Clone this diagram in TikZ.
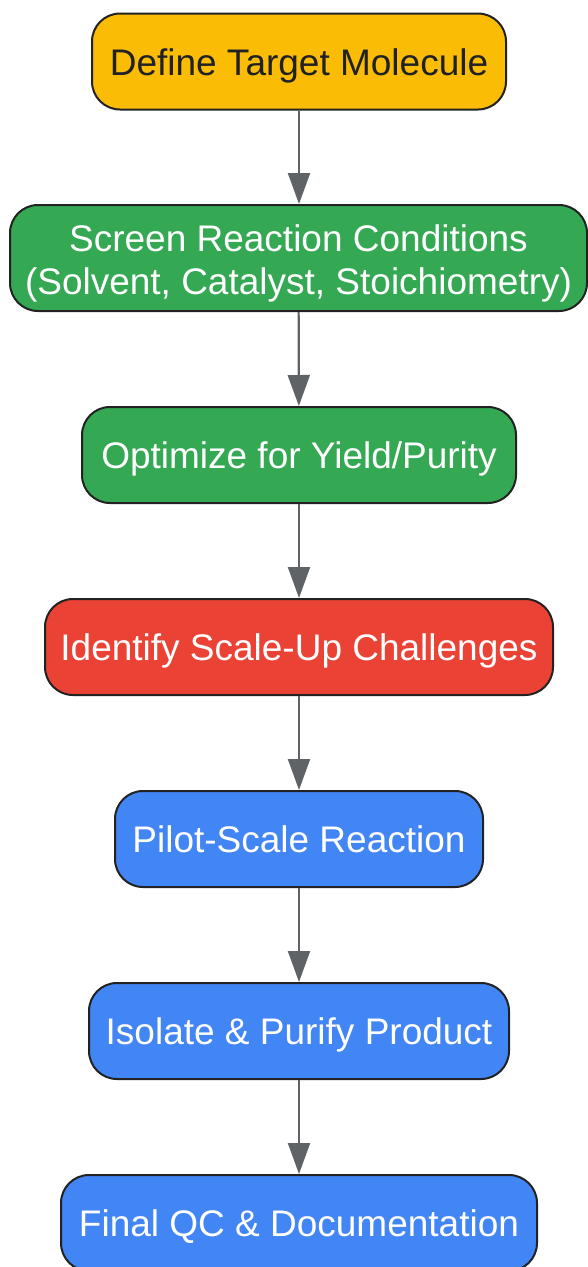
\documentclass[tikz,border=0pt]{standalone}
\usepackage{fontspec}
\setmainfont{Liberation Sans}
\usetikzlibrary{arrows.meta}
\definecolor{cyellow}{HTML}{FBBC05}
\definecolor{cgreen}{HTML}{34A853}
\definecolor{cred}{HTML}{EA4335}
\definecolor{cblue}{HTML}{4285F4}
\definecolor{cedge}{HTML}{5F6368}
\definecolor{cborder}{HTML}{222222}
\definecolor{cdark}{HTML}{202124}
\tikzset{
  box/.style={draw=cborder, line width=2pt, rounded corners=28pt, inner sep=0pt,
    minimum height=96pt, align=center, text=white, text height=27pt, text depth=0pt,
    font=\fontsize{37}{43}\selectfont},
  conn/.style={draw=cedge, line width=2.2pt, -{Triangle[length=31pt,width=22pt]}}
}
\begin{document}
\begin{tikzpicture}[x=1pt,y=1pt]
\useasboundingbox (0,0) rectangle (588,-1267);
\node[box, fill=cyellow, text=cdark, minimum width=414pt] (n1) at (299,-61.5) {Define Target Molecule};
\node[box, fill=cgreen, minimum width=577pt, minimum height=106pt, text height=72pt] (n2) at (298.5,-258) {Screen Reaction Conditions\\(Solvent, Catalyst, Stoichiometry)};
\node[box, fill=cgreen, minimum width=434pt] (n3) at (299,-455) {Optimize for Yield/Purity};
\node[box, fill=cred, minimum width=508pt] (n4) at (299,-647) {Identify Scale-Up Challenges};
\node[box, fill=cblue, minimum width=368pt] (n5) at (299,-839) {Pilot-Scale Reaction};
\node[box, fill=cblue, minimum width=420pt] (n6) at (299,-1031) {Isolate \& Purify Product};
\node[box, fill=cblue, minimum width=476pt] (n7) at (299,-1223) {Final QC \& Documentation};
\draw[conn] (n1.south -| 299,0) -- (n2.north -| 299,0);
\draw[conn] (n2) -- (n3);
\draw[conn] (n3) -- (n4);
\draw[conn] (n4) -- (n5);
\draw[conn] (n5) -- (n6);
\draw[conn] (n6) -- (n7);
\end{tikzpicture}
\end{document}
